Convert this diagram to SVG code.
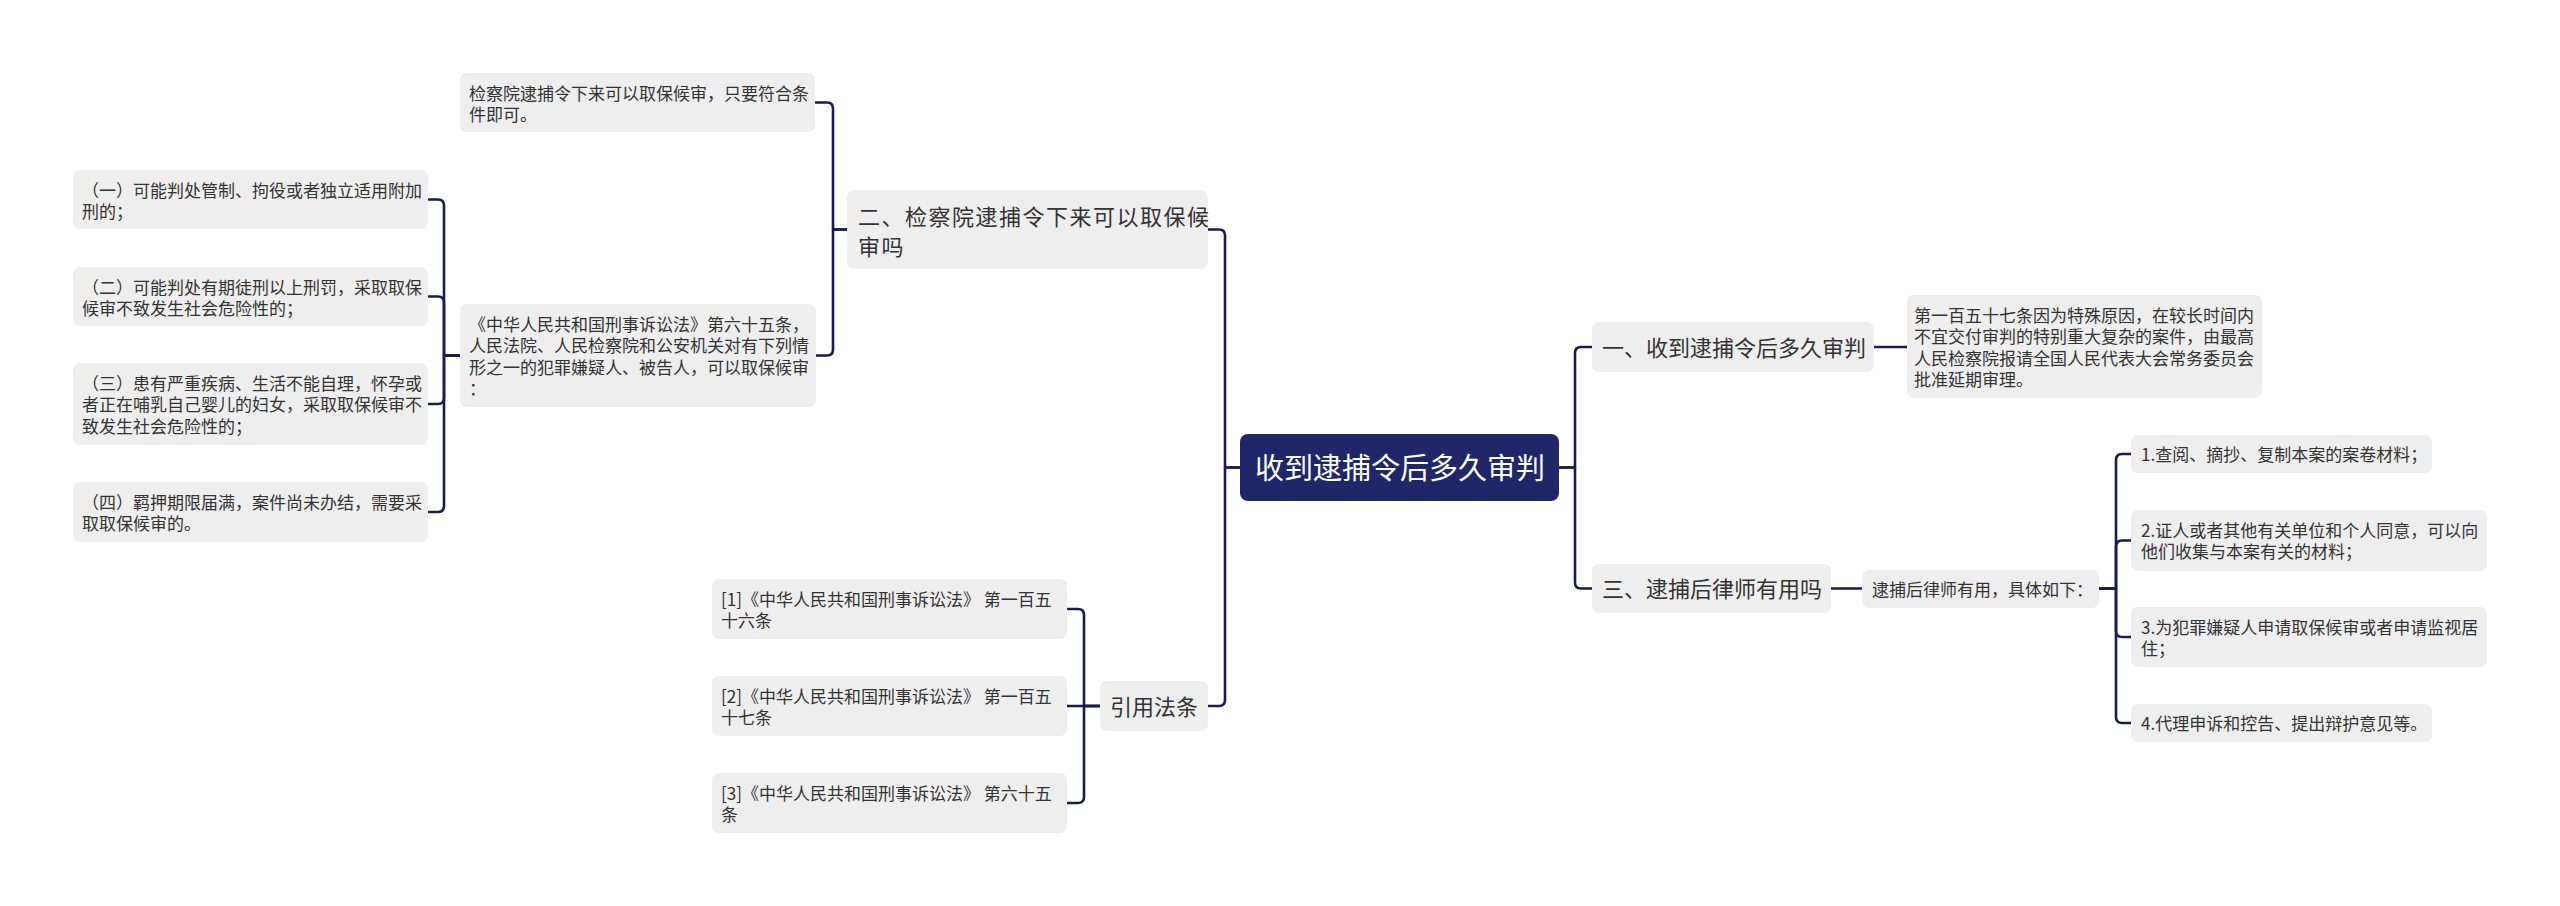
<svg xmlns="http://www.w3.org/2000/svg" width="2560" height="906" viewBox="0 0 2560 906">
<style>
.box{fill:#eeeeee;}
.root{fill:#1f2769;}
text{font-family:"Noto Sans CJK SC","Noto Sans",sans-serif;fill:#333333;}
.s{font-size:17px;}
.m{font-size:22px;}
.m2{font-size:22px;letter-spacing:1.5px;}
.r{font-size:29px;fill:#ffffff;}
.lk{fill:none;stroke:#181d4e;stroke-width:2.6;stroke-linecap:round;stroke-linejoin:round;}
</style>
<rect width="2560" height="906" fill="#ffffff"/>
<g id="connectors">
<path class="lk" d="M1240,467.5 H1225 V235.5 Q1225,229.5 1219,229.5 H1208"/>
<path class="lk" d="M1240,467.5 H1225 V700 Q1225,706 1219,706 H1208"/>
<path class="lk" d="M1559,467.5 H1575 V353 Q1575,347 1581,347 H1592"/>
<path class="lk" d="M1559,467.5 H1575 V582.5 Q1575,588.5 1581,588.5 H1592"/>
<path class="lk" d="M847,229.5 H833 V108.5 Q833,102.5 827,102.5 H815"/>
<path class="lk" d="M847,229.5 H833 V349.5 Q833,355.5 827,355.5 H816"/>
<path class="lk" d="M460,355.5 H444 V205.5 Q444,199.5 438,199.5 H428"/>
<path class="lk" d="M460,355.5 H444 V302.5 Q444,296.5 438,296.5 H428"/>
<path class="lk" d="M460,355.5 H444 V398 Q444,404 438,404 H428"/>
<path class="lk" d="M460,355.5 H444 V506 Q444,512 438,512 H428"/>
<path class="lk" d="M1100,706 H1084 V615 Q1084,609 1078,609 H1067"/>
<path class="lk" d="M1100,706 H1067"/>
<path class="lk" d="M1100,706 H1084 V797 Q1084,803 1078,803 H1067"/>
<path class="lk" d="M1874,347 H1907"/>
<path class="lk" d="M1831,588.5 H1862"/>
<path class="lk" d="M2099,588.5 H2116 V460 Q2116,454 2122,454 H2131"/>
<path class="lk" d="M2099,588.5 H2116 V546.5 Q2116,540.5 2122,540.5 H2131"/>
<path class="lk" d="M2099,588.5 H2116 V631 Q2116,637 2122,637 H2131"/>
<path class="lk" d="M2099,588.5 H2116 V717 Q2116,723 2122,723 H2131"/>
</g>
<g id="root">
<rect class="root" x="1240" y="434" width="319" height="67" rx="8"/>
<text class="r" x="1255" y="479">收到逮捕令后多久审判</text>
</g>
<g id="n-er">
<rect class="box" x="847" y="190" width="361" height="79" rx="8"/>
<text class="m2" x="858" y="225">二、检察院逮捕令下来可以取保候</text>
<text class="m2" x="858" y="254.5">审吗</text>
</g>
<g id="n-er-1">
<rect class="box" x="460" y="73" width="355" height="59" rx="7"/>
<text class="s" x="469" y="99.5">检察院逮捕令下来可以取保候审，只要符合条</text>
<text class="s" x="469" y="121">件即可。</text>
</g>
<g id="n-er-2">
<rect class="box" x="460" y="304" width="356" height="103" rx="7"/>
<text class="s" x="469" y="330.5">《中华人民共和国刑事诉讼法》第六十五条，</text>
<text class="s" x="469" y="352">人民法院、人民检察院和公安机关对有下列情</text>
<text class="s" x="469" y="373.5">形之一的犯罪嫌疑人、被告人，可以取保候审</text>
<text class="s" x="469" y="395">：</text>
</g>
<g id="n-l1">
<rect class="box" x="73" y="170" width="355" height="59" rx="7"/>
<text class="s" x="82" y="196.5">（一）可能判处管制、拘役或者独立适用附加</text>
<text class="s" x="82" y="218">刑的；</text>
</g>
<g id="n-l2">
<rect class="box" x="73" y="267" width="355" height="59" rx="7"/>
<text class="s" x="82" y="293.5">（二）可能判处有期徒刑以上刑罚，采取取保</text>
<text class="s" x="82" y="315">候审不致发生社会危险性的；</text>
</g>
<g id="n-l3">
<rect class="box" x="73" y="363" width="355" height="82" rx="7"/>
<text class="s" x="82" y="389.5">（三）患有严重疾病、生活不能自理，怀孕或</text>
<text class="s" x="82" y="411">者正在哺乳自己婴儿的妇女，采取取保候审不</text>
<text class="s" x="82" y="432.5">致发生社会危险性的；</text>
</g>
<g id="n-l4">
<rect class="box" x="73" y="482" width="355" height="60" rx="7"/>
<text class="s" x="82" y="508.5">（四）羁押期限届满，案件尚未办结，需要采</text>
<text class="s" x="82" y="530">取取保候审的。</text>
</g>
<g id="n-cite">
<rect class="box" x="1100" y="681" width="108" height="50" rx="7"/>
<text class="m" x="1110" y="714.5">引用法条</text>
</g>
<g id="n-c1">
<rect class="box" x="712" y="579" width="355" height="60" rx="7"/>
<text class="s" x="721" y="605.5">[1]《中华人民共和国刑事诉讼法》 第一百五</text>
<text class="s" x="721" y="627">十六条</text>
</g>
<g id="n-c2">
<rect class="box" x="712" y="676" width="355" height="60" rx="7"/>
<text class="s" x="721" y="702.5">[2]《中华人民共和国刑事诉讼法》 第一百五</text>
<text class="s" x="721" y="724">十七条</text>
</g>
<g id="n-c3">
<rect class="box" x="712" y="773" width="355" height="60" rx="7"/>
<text class="s" x="721" y="799.5">[3]《中华人民共和国刑事诉讼法》 第六十五</text>
<text class="s" x="721" y="821">条</text>
</g>
<g id="n-yi">
<rect class="box" x="1592" y="322" width="282" height="50" rx="7"/>
<text class="m" x="1602" y="355.5">一、收到逮捕令后多久审判</text>
</g>
<g id="n-yi-1">
<rect class="box" x="1907" y="295" width="355" height="103" rx="7"/>
<text class="s" x="1914" y="321.5">第一百五十七条因为特殊原因，在较长时间内</text>
<text class="s" x="1914" y="343">不宜交付审判的特别重大复杂的案件，由最高</text>
<text class="s" x="1914" y="364.5">人民检察院报请全国人民代表大会常务委员会</text>
<text class="s" x="1914" y="386">批准延期审理。</text>
</g>
<g id="n-san">
<rect class="box" x="1592" y="564" width="239" height="49" rx="7"/>
<text class="m" x="1602" y="597">三、逮捕后律师有用吗</text>
</g>
<g id="n-san-1">
<rect class="box" x="1862" y="570" width="237" height="38" rx="7"/>
<text class="s" x="1872" y="595.5">逮捕后律师有用，具体如下：</text>
</g>
<g id="n-r1">
<rect class="box" x="2131" y="435" width="301" height="38" rx="7"/>
<text class="s" x="2141" y="460.5">1.查阅、摘抄、复制本案的案卷材料；</text>
</g>
<g id="n-r2">
<rect class="box" x="2131" y="510" width="356" height="61" rx="7"/>
<text class="s" x="2141" y="536.5">2.证人或者其他有关单位和个人同意，可以向</text>
<text class="s" x="2141" y="558">他们收集与本案有关的材料；</text>
</g>
<g id="n-r3">
<rect class="box" x="2131" y="607" width="356" height="60" rx="7"/>
<text class="s" x="2141" y="633.5">3.为犯罪嫌疑人申请取保候审或者申请监视居</text>
<text class="s" x="2141" y="655">住；</text>
</g>
<g id="n-r4">
<rect class="box" x="2131" y="704" width="301" height="38" rx="7"/>
<text class="s" x="2141" y="729.5">4.代理申诉和控告、提出辩护意见等。</text>
</g>
</svg>
